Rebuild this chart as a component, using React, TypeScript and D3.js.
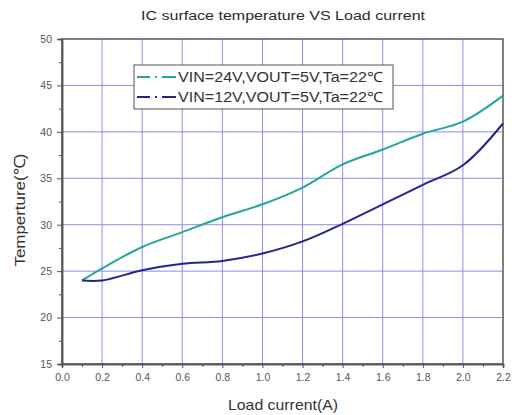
import { useEffect, useRef } from 'react';
import * as d3 from 'd3';

const currents = [0.1, 0.2, 0.4, 0.6, 0.8, 1.0, 1.2, 1.4, 1.6, 1.8, 2.0, 2.2];
const temp24V = [24.0, 25.3, 27.6, 29.2, 30.8, 32.2, 34.0, 36.5, 38.1, 39.8, 41.1, 43.9];
const temp12V = [24.0, 24.0, 25.1, 25.8, 26.1, 26.9, 28.2, 30.1, 32.2, 34.3, 36.4, 40.9];
const seriesNames = ['VIN=24V,VOUT=5V,Ta=22\u2103', 'VIN=12V,VOUT=5V,Ta=22\u2103'];
const xTicks = [0, 0.2, 0.4, 0.6, 0.8, 1.0, 1.2, 1.4, 1.6, 1.8, 2.0, 2.2];
const yTicks = [15, 20, 25, 30, 35, 40, 45, 50];

export default function App() {
  const svgRef = useRef<SVGSVGElement>(null);

  useEffect(() => {
    if (!svgRef.current) return;
    const width = 518;
    const height = 415;
    const margin = { top: 39, right: 15, bottom: 51, left: 62 };
    const font = 'Liberation Sans, Arial, sans-serif';

    d3.select(svgRef.current).selectAll('*').remove();
    const svg = d3.select(svgRef.current).attr('width', width).attr('height', height);

    svg.append('rect').attr('width', width).attr('height', height).attr('fill', '#fff');

    const x = d3.scaleLinear().domain([0, 2.2]).range([margin.left, width - margin.right]);
    const y = d3.scaleLinear().domain([15, 50]).range([height - margin.bottom, margin.top]);

    // Grid
    svg
      .append('g')
      .selectAll('line')
      .data(xTicks.slice(1, -1))
      .enter()
      .append('line')
      .attr('x1', (d) => x(d))
      .attr('x2', (d) => x(d))
      .attr('y1', y(15))
      .attr('y2', y(50))
      .attr('stroke', '#8c8cf0')
      .attr('stroke-width', 1);
    svg
      .append('g')
      .selectAll('line')
      .data(yTicks.slice(1, -1))
      .enter()
      .append('line')
      .attr('x1', x(0))
      .attr('x2', x(2.2))
      .attr('y1', (d) => y(d))
      .attr('y2', (d) => y(d))
      .attr('stroke', '#8c8cf0')
      .attr('stroke-width', 1);

    // Frame
    svg
      .append('rect')
      .attr('x', x(0))
      .attr('y', y(50))
      .attr('width', x(2.2) - x(0))
      .attr('height', y(15) - y(50))
      .attr('fill', 'none')
      .attr('stroke', '#555')
      .attr('stroke-width', 1.5);

    // Axes
    const xAxis = svg
      .append('g')
      .attr('transform', `translate(0, ${y(15)})`)
      .call(
        d3
          .axisBottom(x)
          .tickValues(xTicks)
          .tickSize(4)
          .tickPadding(6)
          .tickFormat((d) => d3.format('.1f')(d as number))
      );
    xAxis
      .append('g')
      .call(d3.axisBottom(x).tickValues(d3.range(0.1, 2.2, 0.2)).tickSize(3).tickFormat(() => ''));

    const yAxis = svg
      .append('g')
      .attr('transform', `translate(${x(0)}, 0)`)
      .call(d3.axisLeft(y).tickValues(yTicks).tickSize(5).tickPadding(5));
    yAxis
      .append('g')
      .call(d3.axisLeft(y).tickValues(d3.range(17.5, 50, 5)).tickSize(3).tickFormat(() => ''));

    svg.selectAll('.domain').attr('stroke', '#555').attr('stroke-width', 1.5);
    svg.selectAll('.tick line').attr('stroke', '#555');
    svg
      .selectAll('.tick text')
      .attr('fill', '#555')
      .attr('font-size', '10.5px')
      .attr('font-family', font);

    // Lines
    const line = d3
      .line<number>()
      .x((_, i) => x(currents[i]))
      .y((d) => y(d))
      .curve(d3.curveCatmullRom.alpha(0.5));
    const colors = ['#25a59c', '#24248f'];
    [temp24V, temp12V].forEach((s, i) => {
      svg
        .append('path')
        .attr('d', line(s))
        .attr('fill', 'none')
        .attr('stroke', colors[i])
        .attr('stroke-width', 2);
    });

    // Legend
    const lg = svg.append('g').attr('transform', 'translate(134, 65)');
    lg.append('rect')
      .attr('width', 259)
      .attr('height', 44)
      .attr('fill', '#fff')
      .attr('stroke', '#555')
      .attr('stroke-width', 1);
    seriesNames.forEach((name, i) => {
      const ly = 12 + i * 20;
      lg.append('line')
        .attr('x1', 3)
        .attr('x2', 42)
        .attr('y1', ly)
        .attr('y2', ly)
        .attr('stroke', colors[i])
        .attr('stroke-width', 2)
        .attr('stroke-dasharray', '13,5,2,5,14');
      lg.append('text')
        .attr('x', 44)
        .attr('y', ly)
        .attr('dy', '0.36em')
        .attr('font-size', '14px')
        .attr('font-family', font)
        .attr('fill', '#333')
        .attr('textLength', 205)
        .attr('lengthAdjust', 'spacingAndGlyphs')
        .text(name);
    });

    // Titles
    svg
      .append('text')
      .attr('x', 283)
      .attr('y', 20)
      .attr('text-anchor', 'middle')
      .attr('font-size', '12.5px')
      .attr('font-family', font)
      .attr('fill', '#2a2a2a')
      .attr('textLength', 284)
      .attr('lengthAdjust', 'spacingAndGlyphs')
      .text('IC surface temperature VS Load current');
    svg
      .append('text')
      .attr('x', 283)
      .attr('y', 410)
      .attr('text-anchor', 'middle')
      .attr('font-size', '15px')
      .attr('font-family', font)
      .attr('fill', '#333')
      .attr('textLength', 110)
      .attr('lengthAdjust', 'spacingAndGlyphs')
      .text('Load current(A)');
    svg
      .append('text')
      .attr('transform', 'translate(25, 210) rotate(-90)')
      .attr('text-anchor', 'middle')
      .attr('font-size', '15.5px')
      .attr('font-family', font)
      .attr('fill', '#333')
      .attr('textLength', 113)
      .attr('lengthAdjust', 'spacingAndGlyphs')
      .text('Temperture(\u2103)');
  }, []);

  return <svg ref={svgRef} style={{ position: 'absolute', left: 0, top: 0 }} />;
}
